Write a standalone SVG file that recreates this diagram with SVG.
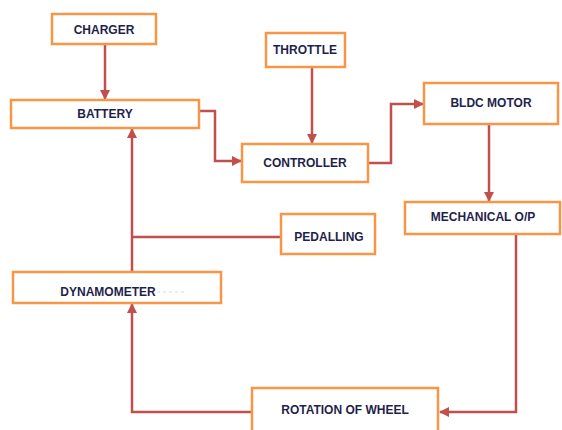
<svg xmlns="http://www.w3.org/2000/svg" width="562" height="430" viewBox="0 0 562 430">
<style>
.box{fill:#fff;stroke:#f79646;stroke-width:2.5}
.lbl{font-family:"Liberation Sans",Arial,sans-serif;font-weight:bold;font-size:12px;fill:#1f1f4d;text-anchor:middle}
.con{fill:none;stroke:#c0504d;stroke-width:2.5}
</style>
<defs>
<marker id="ah" viewBox="0 0 10 10" refX="9" refY="5" markerWidth="4" markerHeight="4" orient="auto" markerUnits="strokeWidth">
<path d="M0,0 L10,5 L0,10 z" fill="#c0504d"/>
</marker>
</defs>
<rect width="562" height="430" fill="#fff"/>
<g id="connectors">
<path class="con" d="M105,44 V99" marker-end="url(#ah)"/>
<path class="con" d="M199,111 H215 V161 H241" marker-end="url(#ah)"/>
<path class="con" d="M312,67 V143" marker-end="url(#ah)"/>
<path class="con" d="M368,163 H391 V104 H423" marker-end="url(#ah)"/>
<path class="con" d="M489,124 V201" marker-end="url(#ah)"/>
<path class="con" d="M516,234 V412 H440" marker-end="url(#ah)"/>
<path class="con" d="M252,412 H132 V304" marker-end="url(#ah)"/>
<path class="con" d="M132,272 V129" marker-end="url(#ah)"/>
<path class="con" d="M281,237 H132"/>
</g>
<g id="charger"><rect class="box" x="52" y="14" width="104" height="30"/><text class="lbl" x="104" y="34">CHARGER</text></g>
<g id="battery"><rect class="box" x="11" y="100" width="188" height="28"/><text class="lbl" x="105" y="118">BATTERY</text></g>
<g id="throttle"><rect class="box" x="266" y="33" width="79" height="34"/><text class="lbl" x="305" y="54">THROTTLE</text></g>
<g id="controller"><rect class="box" x="242" y="144" width="126" height="38"/><text class="lbl" x="305" y="167">CONTROLLER</text></g>
<g id="bldc"><rect class="box" x="424" y="83" width="134" height="41"/><text class="lbl" x="491" y="107">BLDC MOTOR</text></g>
<g id="mechanical"><rect class="box" x="405" y="202" width="155" height="32"/><text class="lbl" x="483" y="221">MECHANICAL O/P</text></g>
<g id="pedalling"><rect class="box" x="281" y="214" width="94" height="40"/><text class="lbl" x="329" y="241">PEDALLING</text></g>
<g id="dynamometer"><rect class="box" x="13" y="272" width="208" height="31"/><text class="lbl" x="108" y="296">DYNAMOMETER</text><path d="M157,292 H186" stroke="#d8d8d8" stroke-width="1" stroke-dasharray="3,3"/></g>
<g id="rotation"><rect class="box" x="252" y="388" width="186" height="46"/><text class="lbl" x="345" y="414">ROTATION OF WHEEL</text></g>
</svg>
